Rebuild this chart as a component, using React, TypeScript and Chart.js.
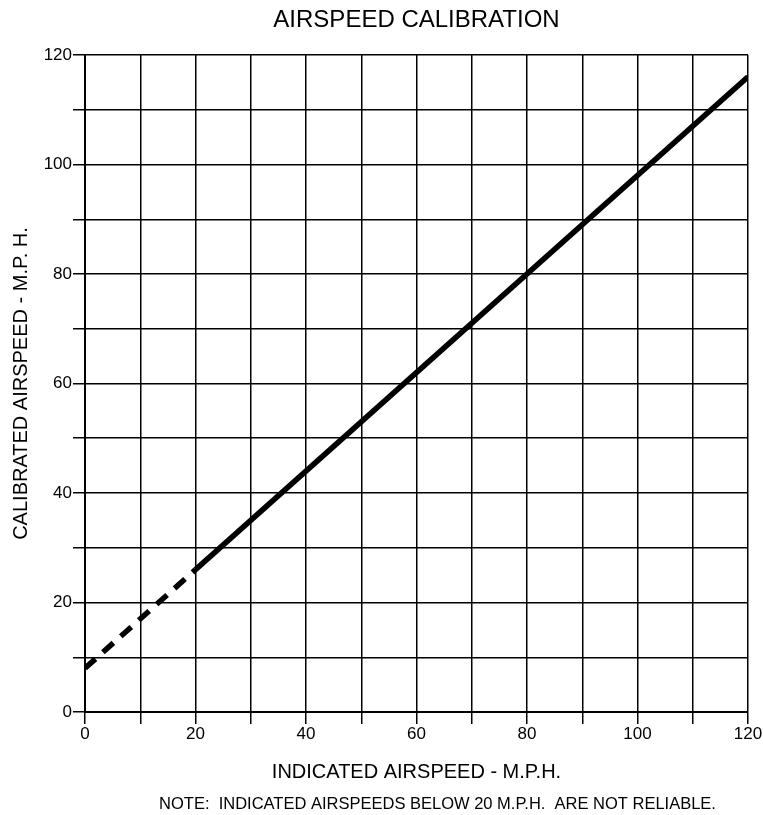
import React, { useEffect, useRef } from "react";
import { Chart, registerables } from "chart.js";

Chart.register(...registerables);

// Unreliable region (below 20 M.P.H. indicated) - drawn dashed
const dashedIndicated = [0, 20];
const dashedCalibrated = [8, 26];
// Reliable calibration line
const solidIndicated = [20, 120];
const solidCalibrated = [26, 116];

const xTickLabels = [0, 20, 40, 60, 80, 100, 120];
const yTickLabels = [0, 20, 40, 60, 80, 100, 120];

const TITLE = "AIRSPEED CALIBRATION";
const X_TITLE = "INDICATED AIRSPEED - M.P.H.";
const Y_TITLE = "CALIBRATED AIRSPEED - M.P. H.";
const NOTE = "NOTE:  INDICATED AIRSPEEDS BELOW 20 M.P.H.  ARE NOT RELIABLE.";

const FONT = "'Liberation Sans', Arial, Helvetica, sans-serif";

const toPoints = (xs: number[], ys: number[]) => xs.map((x, i) => ({ x, y: ys[i] }));

const notePlugin = {
  id: "notePlugin",
  afterDraw(chart: any) {
    const { ctx, chartArea } = chart;
    ctx.save();
    ctx.fillStyle = "#000";
    ctx.font = `16.5px ${FONT}`;
    ctx.textAlign = "center";
    ctx.textBaseline = "middle";
    ctx.fillText(NOTE, (chartArea.left + chartArea.right) / 2 + 21, chart.height - 11);
    ctx.restore();
  },
};

export default function App() {
  const ref = useRef<HTMLCanvasElement>(null);

  useEffect(() => {
    if (!ref.current) return;
    const chart = new Chart(ref.current, {
      type: "scatter",
      data: {
        datasets: [
          {
            label: "Below 20 M.P.H.",
            data: toPoints(dashedIndicated, dashedCalibrated),
            showLine: true,
            borderColor: "#000",
            borderWidth: 5.5,
            borderDash: [14, 10],
            borderCapStyle: "butt",
            pointRadius: 0,
            fill: false,
          },
          {
            label: "Calibration",
            data: toPoints(solidIndicated, solidCalibrated),
            showLine: true,
            borderColor: "#000",
            borderWidth: 5.5,
            borderCapStyle: "butt",
            pointRadius: 0,
            fill: false,
          },
        ],
      },
      options: {
        responsive: false,
        animation: false,
        layout: { padding: { top: 0, right: 15, bottom: 23, left: 0 } },
        plugins: {
          legend: { display: false },
          tooltip: { enabled: false },
          title: {
            display: true,
            text: TITLE,
            fullSize: false,
            color: "#000",
            font: { family: FONT, size: 24, weight: "normal" },
            padding: { top: 6, bottom: 20.2 },
          },
        },
        scales: {
          x: {
            type: "linear",
            min: 0,
            max: 120,
            afterFit: (s: any) => {
              s.height = 80;
            },
            ticks: {
              stepSize: 10,
              autoSkip: false,
              maxRotation: 0,
              color: "#000",
              padding: 0,
              font: { family: FONT, size: 17 },
              callback: (v: any) => (xTickLabels.includes(Number(v)) ? String(v) : ""),
            },
            grid: { color: "#000", lineWidth: 1.5, tickLength: 12, drawTicks: true },
            border: { display: true, color: "#000", width: 2 },
            title: {
              display: true,
              text: X_TITLE,
              color: "#000",
              font: { family: FONT, size: 20 },
              padding: { top: 0, bottom: 8 },
            },
          },
          y: {
            type: "linear",
            min: 0,
            max: 120,
            afterFit: (s: any) => {
              s.width = 85;
            },
            ticks: {
              stepSize: 10,
              autoSkip: false,
              color: "#000",
              padding: 1,
              font: { family: FONT, size: 17 },
              callback: (v: any) => (yTickLabels.includes(Number(v)) ? String(v) : ""),
            },
            grid: { color: "#000", lineWidth: 1.5, tickLength: 12, drawTicks: true },
            border: { display: true, color: "#000", width: 2 },
            title: {
              display: true,
              text: Y_TITLE,
              color: "#000",
              font: { family: FONT, size: 20 },
              padding: { top: 9, bottom: 0 },
            },
          },
        },
      },
      plugins: [notePlugin],
    });
    return () => chart.destroy();
  }, []);

  return (
    <div style={{ position: "absolute", left: 0, top: 0, width: 763, height: 815, background: "#fff" }}>
      <canvas ref={ref} width={763} height={815} />
    </div>
  );
}
